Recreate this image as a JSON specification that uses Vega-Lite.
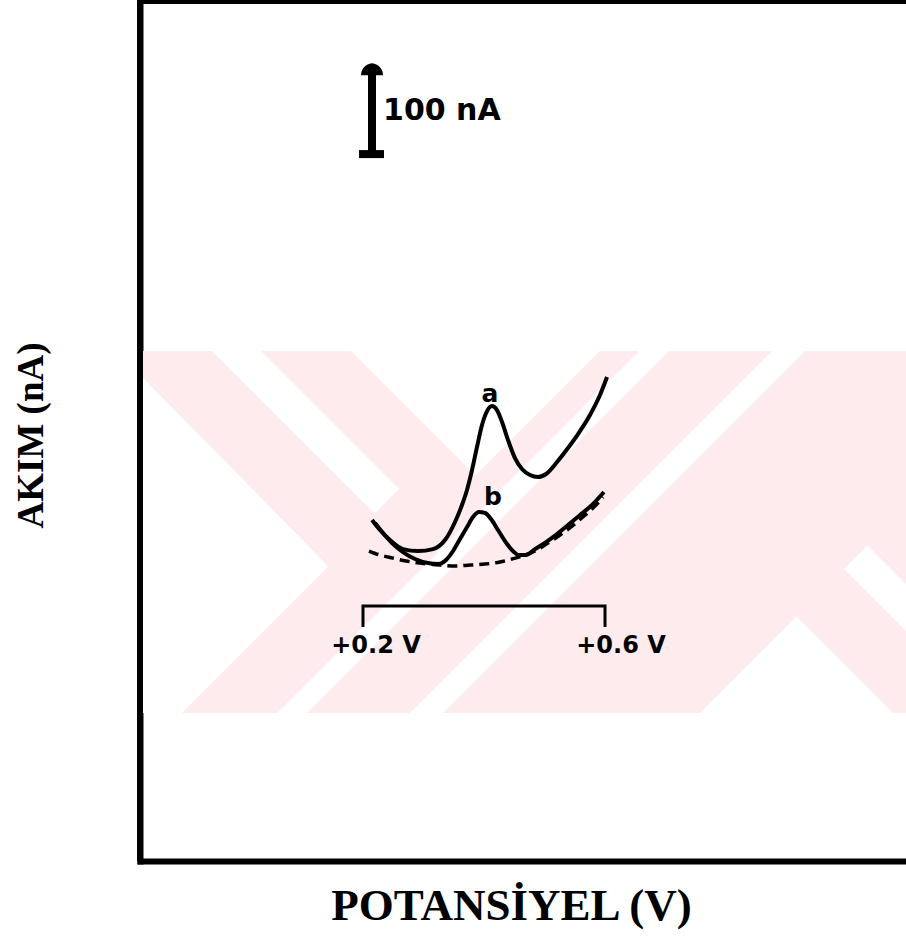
{
  "$schema": "https://vega.github.io/schema/vega-lite/v6.json",
  "width": 766,
  "height": 861,
  "autosize": {"type": "none"},
  "padding": {"left": 140, "top": 0, "right": 0, "bottom": 87},
  "background": "white",
  "config": {
    "view": {"stroke": null},
    "axisX": {
      "domain": true, "domainColor": "black", "domainWidth": 6, "domainCap": "square", "zindex": 1,
      "ticks": false, "labels": false, "grid": false,
      "titleFont": "Liberation Serif", "titleFontWeight": "bold", "titleFontSize": 45, "titleColor": "black",
      "titleX": 371, "titleY": 44, "titleBaseline": "middle", "titleAlign": "center"
    },
    "axisY": {
      "domain": true, "domainColor": "black", "domainWidth": 6, "domainCap": "square", "zindex": 1,
      "ticks": false, "labels": false, "grid": false,
      "titleFont": "Liberation Serif", "titleFontWeight": "bold", "titleFontSize": 37, "titleColor": "black",
      "titleAngle": -90, "titleX": -109, "titleY": 435, "titleBaseline": "middle", "titleAlign": "center"
    }
  },
  "layer": [
    {
      "data": {"values": [{"V": -0.1636, "V2": 1.0975, "nA": 554.3, "nA2": 160.9}]},
      "mark": {"type": "rect", "color": "#fdebee"},
      "encoding": {
        "x": {"field": "V", "type": "quantitative", "scale": {"domain": [-0.1686, 1.0975], "nice": false, "zero": false}, "title": "POTANSİYEL (V)"},
        "x2": {"field": "V2"},
        "y": {"field": "nA", "type": "quantitative", "scale": {"domain": [0, 936], "nice": false, "zero": false}, "title": "AKIM (nA)"},
        "y2": {"field": "nA2"}
      }
    },
    {
      "data": {"values": [
        {"id": "A", "nA": 525.0, "V": -0.1636, "V2": -0.1636},
        {"id": "A", "nA": 320.1, "V": -0.1636, "V2": 0.1430},
        {"id": "A", "nA": 160.9, "V": -0.1636, "V2": -0.0992},
        {"id": "B", "nA": 554.3, "V": -0.0496, "V2": 0.0314},
        {"id": "B", "nA": 404.3, "V": 0.1785, "V2": 0.2595},
        {"id": "B", "nA": 377.7, "V": 0.2190, "V2": 0.2190},
        {"id": "C", "nA": 554.3, "V": 0.1802, "V2": 0.5917},
        {"id": "C", "nA": 419.0, "V": 0.3860, "V2": 0.3860},
        {"id": "W1", "nA": 554.3, "V": 0.6562, "V2": 0.7058},
        {"id": "W1", "nA": 160.9, "V": 0.0579, "V2": 0.1074},
        {"id": "W2", "nA": 554.3, "V": 0.8760, "V2": 0.9306},
        {"id": "W2", "nA": 160.9, "V": 0.2777, "V2": 0.3322},
        {"id": "T", "nA": 265.8, "V": 0.9165, "V2": 0.9165},
        {"id": "T", "nA": 160.9, "V": 0.7570, "V2": 1.0760},
        {"id": "S", "nA": 342.9, "V": 1.0339, "V2": 1.0339},
        {"id": "S", "nA": 317.4, "V": 0.9950, "V2": 1.0727},
        {"id": "S", "nA": 301.1, "V": 1.0198, "V2": 1.0975},
        {"id": "S", "nA": 250.0, "V": 1.0975, "V2": 1.0975}
      ]},
      "mark": {"type": "area", "orient": "horizontal", "color": "white", "interpolate": "linear"},
      "encoding": {
        "y": {"field": "nA", "type": "quantitative", "scale": {"domain": [0, 936], "nice": false, "zero": false}, "title": "AKIM (nA)"},
        "x": {"field": "V", "type": "quantitative", "scale": {"domain": [-0.1686, 1.0975], "nice": false, "zero": false}, "title": "POTANSİYEL (V)"},
        "x2": {"field": "V2"},
        "detail": {"field": "id"}
      }
    },
    {
      "data": {"values": [{"V": -0.1686, "nA": 0, "nA2": 936}]},
      "mark": {"type": "rule", "color": "black", "strokeWidth": 6},
      "encoding": {
        "x": {"field": "V", "type": "quantitative", "scale": {"domain": [-0.1686, 1.0975], "nice": false, "zero": false}, "title": "POTANSİYEL (V)"},
        "y": {"field": "nA", "type": "quantitative", "scale": {"domain": [0, 936], "nice": false, "zero": false}, "title": "AKIM (nA)"},
        "y2": {"field": "nA2"}
      }
    },
    {
      "data": {"values": [
        {"o": 1, "V": 0.2, "nA": 254.3},
        {"o": 2, "V": 0.2, "nA": 277.2},
        {"o": 3, "V": 0.6, "nA": 277.2},
        {"o": 4, "V": 0.6, "nA": 254.3}
      ]},
      "mark": {"type": "line", "color": "black", "strokeWidth": 3},
      "encoding": {
        "x": {"field": "V", "type": "quantitative", "scale": {"domain": [-0.1686, 1.0975], "nice": false, "zero": false}, "title": "POTANSİYEL (V)"},
        "y": {"field": "nA", "type": "quantitative", "scale": {"domain": [0, 936], "nice": false, "zero": false}, "title": "AKIM (nA)"},
        "order": {"field": "o"}
      }
    },
    {
      "data": {"values": [
        {"series": "a", "V": 0.2149, "nA": 370.7},
        {"series": "a", "V": 0.2281, "nA": 359.8},
        {"series": "a", "V": 0.2446, "nA": 348.9},
        {"series": "a", "V": 0.2661, "nA": 339.1},
        {"series": "a", "V": 0.2909, "nA": 337.0},
        {"series": "a", "V": 0.3157, "nA": 339.1},
        {"series": "a", "V": 0.3355, "nA": 348.9},
        {"series": "a", "V": 0.3521, "nA": 368.5},
        {"series": "a", "V": 0.3636, "nA": 387.0},
        {"series": "a", "V": 0.3719, "nA": 403.3},
        {"series": "a", "V": 0.3802, "nA": 425.0},
        {"series": "a", "V": 0.3884, "nA": 450.0},
        {"series": "a", "V": 0.3967, "nA": 473.9},
        {"series": "a", "V": 0.4050, "nA": 489.1},
        {"series": "a", "V": 0.4132, "nA": 494.6},
        {"series": "a", "V": 0.4215, "nA": 490.2},
        {"series": "a", "V": 0.4298, "nA": 477.2},
        {"series": "a", "V": 0.4397, "nA": 457.6},
        {"series": "a", "V": 0.4512, "nA": 438.0},
        {"series": "a", "V": 0.4628, "nA": 426.1},
        {"series": "a", "V": 0.4760, "nA": 419.6},
        {"series": "a", "V": 0.4893, "nA": 417.4},
        {"series": "a", "V": 0.5025, "nA": 420.7},
        {"series": "a", "V": 0.5207, "nA": 433.7},
        {"series": "a", "V": 0.5388, "nA": 448.9},
        {"series": "a", "V": 0.5554, "nA": 464.1},
        {"series": "a", "V": 0.5752, "nA": 484.8},
        {"series": "a", "V": 0.5917, "nA": 506.5},
        {"series": "a", "V": 0.6033, "nA": 526.1},
        {"series": "b", "V": 0.2198, "nA": 367.4},
        {"series": "b", "V": 0.2331, "nA": 356.5},
        {"series": "b", "V": 0.2479, "nA": 345.7},
        {"series": "b", "V": 0.2661, "nA": 335.9},
        {"series": "b", "V": 0.2860, "nA": 328.3},
        {"series": "b", "V": 0.3074, "nA": 323.9},
        {"series": "b", "V": 0.3240, "nA": 322.8},
        {"series": "b", "V": 0.3372, "nA": 327.2},
        {"series": "b", "V": 0.3488, "nA": 337.0},
        {"series": "b", "V": 0.3603, "nA": 350.0},
        {"series": "b", "V": 0.3719, "nA": 363.0},
        {"series": "b", "V": 0.3818, "nA": 373.9},
        {"series": "b", "V": 0.3917, "nA": 379.3},
        {"series": "b", "V": 0.4017, "nA": 378.3},
        {"series": "b", "V": 0.4116, "nA": 371.7},
        {"series": "b", "V": 0.4231, "nA": 359.8},
        {"series": "b", "V": 0.4347, "nA": 347.8},
        {"series": "b", "V": 0.4463, "nA": 338.0},
        {"series": "b", "V": 0.4579, "nA": 332.6},
        {"series": "b", "V": 0.4694, "nA": 332.6},
        {"series": "b", "V": 0.4843, "nA": 339.1},
        {"series": "b", "V": 0.5025, "nA": 346.7},
        {"series": "b", "V": 0.5207, "nA": 355.4},
        {"series": "b", "V": 0.5388, "nA": 365.2},
        {"series": "b", "V": 0.5587, "nA": 376.1},
        {"series": "b", "V": 0.5785, "nA": 387.0},
        {"series": "b", "V": 0.5983, "nA": 401.1}
      ]},
      "mark": {"type": "line", "color": "black", "strokeWidth": 4, "interpolate": "monotone"},
      "encoding": {
        "x": {"field": "V", "type": "quantitative", "scale": {"domain": [-0.1686, 1.0975], "nice": false, "zero": false}, "title": "POTANSİYEL (V)"},
        "y": {"field": "nA", "type": "quantitative", "scale": {"domain": [0, 936], "nice": false, "zero": false}, "title": "AKIM (nA)"},
        "detail": {"field": "series"}
      }
    },
    {
      "data": {"values": [
        {"V": 0.2099, "nA": 337.0},
        {"V": 0.2281, "nA": 332.6},
        {"V": 0.2496, "nA": 329.3},
        {"V": 0.2711, "nA": 326.1},
        {"V": 0.2942, "nA": 323.9},
        {"V": 0.3273, "nA": 321.7},
        {"V": 0.3521, "nA": 320.7},
        {"V": 0.3769, "nA": 321.7},
        {"V": 0.4017, "nA": 322.8},
        {"V": 0.4264, "nA": 325.0},
        {"V": 0.4463, "nA": 328.3},
        {"V": 0.4628, "nA": 331.5},
        {"V": 0.4843, "nA": 337.0},
        {"V": 0.5058, "nA": 345.7},
        {"V": 0.5256, "nA": 354.3},
        {"V": 0.5455, "nA": 364.1},
        {"V": 0.5653, "nA": 375.0},
        {"V": 0.5851, "nA": 387.0},
        {"V": 0.5967, "nA": 395.7}
      ]},
      "mark": {"type": "line", "color": "black", "strokeWidth": 3.5, "strokeDash": [10, 6], "interpolate": "monotone"},
      "encoding": {
        "x": {"field": "V", "type": "quantitative", "scale": {"domain": [-0.1686, 1.0975], "nice": false, "zero": false}, "title": "POTANSİYEL (V)"},
        "y": {"field": "nA", "type": "quantitative", "scale": {"domain": [0, 936], "nice": false, "zero": false}, "title": "AKIM (nA)"}
      }
    },
    {
      "data": {"values": [{"V": 0.2149, "nA": 857.6, "nA2": 768.5}]},
      "mark": {"type": "rule", "color": "black", "strokeWidth": 8},
      "encoding": {
        "x": {"field": "V", "type": "quantitative", "scale": {"domain": [-0.1686, 1.0975], "nice": false, "zero": false}, "title": "POTANSİYEL (V)"},
        "y": {"field": "nA", "type": "quantitative", "scale": {"domain": [0, 936], "nice": false, "zero": false}, "title": "AKIM (nA)"},
        "y2": {"field": "nA2"}
      }
    },
    {
      "data": {"values": [
        {"V": 0.1934, "V2": 0.2347, "nA": 768.5},
        {"V": -0.1686, "V2": 1.0975, "nA": 936}
      ]},
      "mark": {"type": "rule", "color": "black", "strokeWidth": 8},
      "encoding": {
        "x": {"field": "V", "type": "quantitative", "scale": {"domain": [-0.1686, 1.0975], "nice": false, "zero": false}, "title": "POTANSİYEL (V)"},
        "x2": {"field": "V2"},
        "y": {"field": "nA", "type": "quantitative", "scale": {"domain": [0, 936], "nice": false, "zero": false}, "title": "AKIM (nA)"}
      }
    },
    {
      "data": {"values": [{"V": 0.2149, "nA": 860.2}]},
      "mark": {"type": "point", "filled": true, "color": "black", "opacity": 1, "size": 484, "shape": "M-1,0.5 C-1,-0.3 -0.3,-0.6 0,-0.6 C0.3,-0.6 1,-0.3 1,0.5 Z"},
      "encoding": {
        "x": {"field": "V", "type": "quantitative", "scale": {"domain": [-0.1686, 1.0975], "nice": false, "zero": false}, "title": "POTANSİYEL (V)"},
        "y": {"field": "nA", "type": "quantitative", "scale": {"domain": [0, 936], "nice": false, "zero": false}, "title": "AKIM (nA)"}
      }
    },
    {
      "data": {"values": [{"V": 0.2331, "nA": 815.2, "label": "100 nA"}]},
      "mark": {"type": "text", "font": "DejaVu Sans", "fontWeight": "bold", "fontSize": 30, "align": "left", "baseline": "middle", "color": "black"},
      "encoding": {
        "x": {"field": "V", "type": "quantitative", "scale": {"domain": [-0.1686, 1.0975], "nice": false, "zero": false}, "title": "POTANSİYEL (V)"},
        "y": {"field": "nA", "type": "quantitative", "scale": {"domain": [0, 936], "nice": false, "zero": false}, "title": "AKIM (nA)"},
        "text": {"field": "label"}
      }
    },
    {
      "data": {"values": [
        {"V": 0.2215, "nA": 233.7, "label": "+0.2 V"},
        {"V": 0.6264, "nA": 233.7, "label": "+0.6 V"}
      ]},
      "mark": {"type": "text", "font": "DejaVu Sans", "fontWeight": "bold", "fontSize": 24, "align": "center", "baseline": "middle", "color": "black"},
      "encoding": {
        "x": {"field": "V", "type": "quantitative", "scale": {"domain": [-0.1686, 1.0975], "nice": false, "zero": false}, "title": "POTANSİYEL (V)"},
        "y": {"field": "nA", "type": "quantitative", "scale": {"domain": [0, 936], "nice": false, "zero": false}, "title": "AKIM (nA)"},
        "text": {"field": "label"}
      }
    },
    {
      "data": {"values": [
        {"V": 0.4099, "nA": 507.6, "label": "a"},
        {"V": 0.4149, "nA": 395.7, "label": "b"}
      ]},
      "mark": {"type": "text", "font": "DejaVu Sans", "fontWeight": "bold", "fontSize": 25, "align": "center", "baseline": "middle", "color": "black"},
      "encoding": {
        "x": {"field": "V", "type": "quantitative", "scale": {"domain": [-0.1686, 1.0975], "nice": false, "zero": false}, "title": "POTANSİYEL (V)"},
        "y": {"field": "nA", "type": "quantitative", "scale": {"domain": [0, 936], "nice": false, "zero": false}, "title": "AKIM (nA)"},
        "text": {"field": "label"}
      }
    }
  ]
}
